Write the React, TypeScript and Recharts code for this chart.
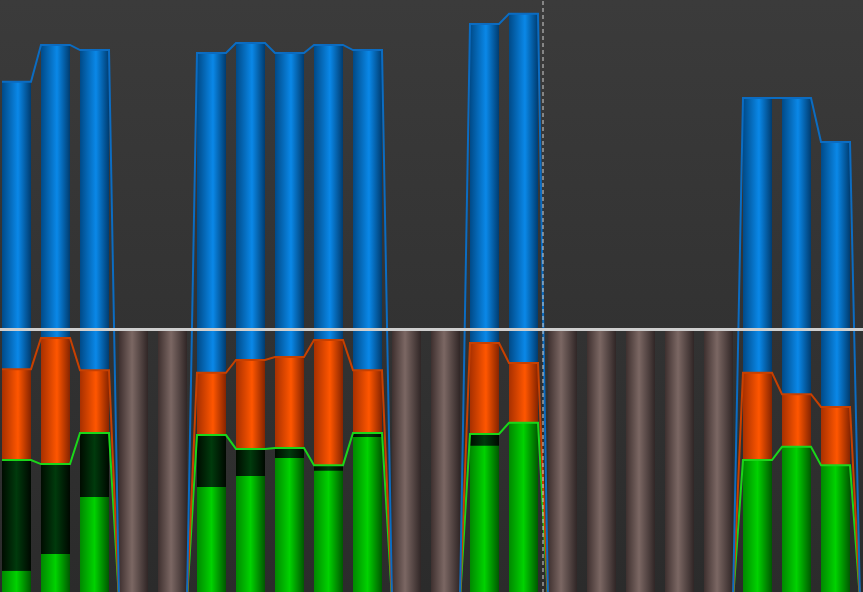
import { ComposedChart, Bar, Line, XAxis, YAxis, ReferenceLine } from 'recharts';

// one entry per day, null = no data for that day
const days = [
  'D01', 'D02', 'D03', 'D04', 'D05', 'D06', 'D07', 'D08', 'D09', 'D10', 'D11', 'D12',
  'D13', 'D14', 'D15', 'D16', 'D17', 'D18', 'D19', 'D20', 'D21', 'D22', 'D23',
];
const awake = [15.33, 16.42, 16.27, null, null, 16.18, 16.48, 16.18, 16.42, 16.27, null, null, 17.04, 17.34, null, null, null, null, null, 14.85, 14.85, 13.55, null];
const active = [6.83, 7.75, 6.8, null, null, 6.72, 7.1, 7.19, 7.69, 6.8, null, null, 7.6, 7.01, null, null, null, null, null, 6.72, 6.09, 5.71, null];
const planned = [4.14, 4.02, 4.94, null, null, 4.88, 4.47, 4.5, 3.99, 4.94, null, null, 4.91, 5.24, null, null, null, null, null, 4.14, 4.53, 3.99, null];
const done = [0.86, 1.36, 3.05, null, null, 3.34, 3.67, 4.2, 3.82, 4.82, null, null, 4.56, 5.24, null, null, null, null, null, 4.14, 4.53, 3.99, null];
const emptyDay = [null, null, null, 8, 8, null, null, null, null, null, 8, 8, null, null, 8, 8, 8, 8, 8, null, null, null, null];
const target = 8;
const today = 13.5;

const W = 863;
const H = 600;
const STEP = 39;
const FIRST = 16.5;
const BAR = 29;
const HALF = BAR / 2 / STEP;
const X_DOMAIN = [-FIRST / STEP, (W - FIRST) / STEP];

const barData = days.map((d, i) => ({
  x: i,
  day: d,
  awake: awake[i],
  active: active[i],
  planned: planned[i],
  done: done[i],
  empty: emptyDay[i],
}));

// line passes flat over each bar top, then slants to the next bar
const edges = (arr: (number | null)[]) =>
  arr.flatMap((v, i) => [
    { x: i - HALF, v: v ?? 0 },
    { x: i + HALF, v: v ?? 0 },
  ]);

const grad = (id: string, a: string, b: string, c: string, mid = '55%') => (
  <linearGradient id={id} x1="0" y1="0" x2="1" y2="0">
    <stop offset="0%" stopColor={a} />
    <stop offset={mid} stopColor={b} />
    <stop offset="100%" stopColor={c} />
  </linearGradient>
);

export default function App() {
  return (
    <div
      style={{
        position: 'fixed',
        left: 0,
        top: 0,
        width: W,
        height: 592,
        overflow: 'hidden',
        background: 'linear-gradient(#3b3b3b, #2b2b2b)',
      }}
    >
      <ComposedChart
        width={W}
        height={H}
        data={barData}
        margin={{ top: 0, right: 0, bottom: 0, left: 0 }}
        barGap={-BAR}
      >
        <defs>
          {grad('gBlue', '#004a88', '#0a88e8', '#003c70')}
          {grad('gOrange', '#a83000', '#ff5600', '#862400')}
          {grad('gDark', '#000c00', '#003a0c', '#000800', '50%')}
          {grad('gGreen', '#008800', '#00d200', '#005800', '50%')}
          {grad('gBrown', '#3e302f', '#7b6763', '#302626', '45%')}
        </defs>
        <XAxis dataKey="x" type="number" domain={X_DOMAIN} allowDataOverflow hide />
        <XAxis xAxisId="edges" dataKey="x" type="number" domain={X_DOMAIN} allowDataOverflow hide />
        <YAxis domain={[0, 17.75]} allowDataOverflow hide />
        <Bar dataKey="awake" barSize={BAR} fill="url(#gBlue)" isAnimationActive={false} />
        <Bar dataKey="active" barSize={BAR} fill="url(#gOrange)" isAnimationActive={false} />
        <Bar dataKey="planned" barSize={BAR} fill="url(#gDark)" isAnimationActive={false} />
        <Bar dataKey="done" barSize={BAR} fill="url(#gGreen)" isAnimationActive={false} />
        <Bar dataKey="empty" barSize={BAR} fill="url(#gBrown)" isAnimationActive={false} />
        <Line xAxisId="edges" data={edges(planned)} dataKey="v" type="linear" stroke="#1ad61a" strokeWidth={2} dot={false} activeDot={false} isAnimationActive={false} />
        <Line xAxisId="edges" data={edges(active)} dataKey="v" type="linear" stroke="#c84000" strokeWidth={2} dot={false} activeDot={false} isAnimationActive={false} />
        <Line xAxisId="edges" data={edges(awake)} dataKey="v" type="linear" stroke="#0b6cc2" strokeWidth={2} dot={false} activeDot={false} isAnimationActive={false} />
        <ReferenceLine y={target} stroke="#cfcfcf" strokeWidth={3} />
        <ReferenceLine x={today} stroke="#d2d2d2" strokeWidth={1} strokeDasharray="4 3" />
      </ComposedChart>
    </div>
  );
}
